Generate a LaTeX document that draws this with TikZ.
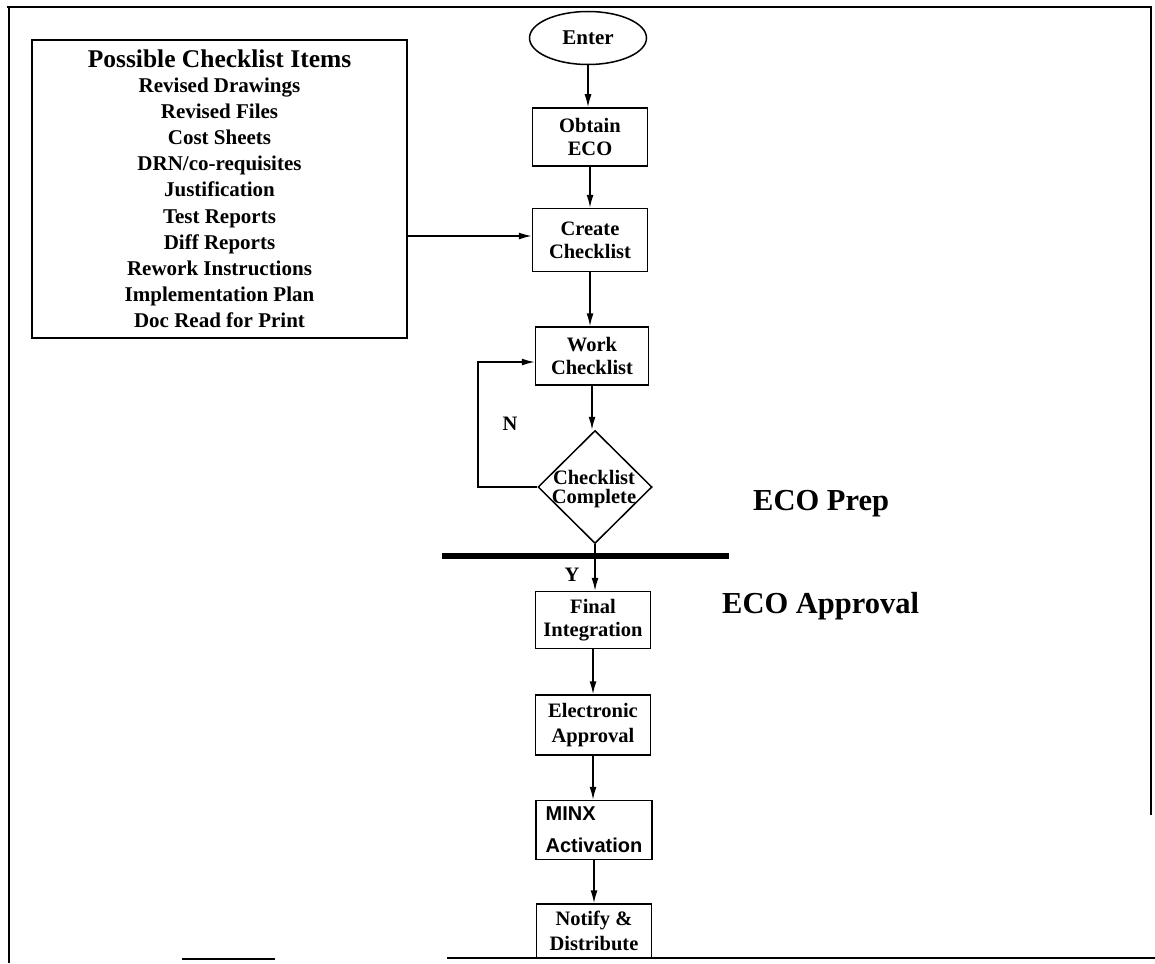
\documentclass[tikz,border=0pt]{standalone}
\usepackage{fontspec}
\setmainfont{Liberation Serif}
\newfontfamily\helv{Liberation Sans}
\usetikzlibrary{shapes.geometric,arrows.meta}
\begin{document}
\begin{tikzpicture}[x=1pt,y=-1pt,
  box/.style={draw,line width=1.5pt,minimum width=115pt,minimum height=58pt,inner sep=0pt,align=center,font=\fontsize{20.5}{23}\selectfont\bfseries},
  arr/.style={line width=1.5pt,-{Latex[length=13pt,width=7pt]}},
  lbl/.style={font=\fontsize{20.5}{23}\selectfont\bfseries,inner sep=0pt},
  phase/.style={font=\fontsize{30.5}{34}\selectfont\bfseries,inner sep=0pt,anchor=base west},
  frame/.style={line width=2.4pt}
]
\useasboundingbox (0,0) rectangle (1155,963);
% frame
\draw[frame] (1151,815) -- (1151,7) -- (7,7);
\draw[frame] (9,7) -- (9,963);
\draw[line width=1.5pt] (182,959) -- (275,959);
\draw[frame] (447,958) -- (1155,958);
% checklist items
\node[draw,line width=1.5pt,minimum width=375pt,minimum height=298pt,inner sep=0pt,align=center,font=\fontsize{21}{26.2}\selectfont\bfseries] (items) at (219.5,189)
 {{\fontsize{25.5}{25}\selectfont Possible Checklist Items}\\[-1.5pt]
  Revised Drawings\\ Revised Files\\ Cost Sheets\\ DRN/co-requisites\\ Justification\\ Test Reports\\ Diff Reports\\ Rework Instructions\\ Implementation Plan\\ Doc Read for Print};
% flow
\node[ellipse,draw,line width=1.5pt,minimum width=117pt,minimum height=53pt,inner sep=0pt,font=\fontsize{21}{23}\selectfont\bfseries] (enter) at (588,38) {Enter};
\node[box] (obtain) at (590,137) {Obtain\\ECO};
\node[box,minimum height=63pt] (create) at (590,240) {Create\\Checklist};
\node[box,minimum width=113pt] (work) at (592,356) {Work\\Checklist};
\node[diamond,draw,line width=1.5pt,minimum width=114pt,minimum height=113pt,inner sep=0pt] (dec) at (595,487) {};
\node[lbl,align=center,font=\fontsize{20.5}{19.5}\selectfont\bfseries] (dectext) at (594,489) {Checklist\\Complete};
\node[box,minimum height=57pt] (final) at (593,620) {Final\\Integration};
\node[box,minimum height=60pt,font=\fontsize{20.5}{25}\selectfont\bfseries] (elec) at (593,725) {Electronic\\Approval};
\node[box,minimum width=116pt,minimum height=59pt,align=left,font=\helv\fontsize{20}{32}\selectfont\bfseries] (minx) at (594,830) {MINX\\Activation};
\node[box,minimum height=54pt,font=\fontsize{20.5}{25}\selectfont\bfseries] (notify) at (594,931) {Notify \&\\Distribute};
% connectors
\draw[arr] (enter.south) -- (enter.south |- obtain.north);
\draw[arr] (obtain.south) -- (obtain.south |- create.north);
\draw[arr] (create.south) -- (create.south |- work.north);
\draw[arr] (work.south) -- (work.south |- dec.north);
\coordinate (loopc) at (478,362);
\draw[arr] (dec.west) -| (loopc) -- (work.west |- loopc);
\draw[arr] (dec.south) -- (dec.south |- final.north);
\draw[arr] (final.south) -- (final.south |- elec.north);
\draw[arr] (elec.south) -- (elec.south |- minx.north);
\draw[arr] (minx.south) -- (minx.south |- notify.north);
\coordinate (itemsout) at (items.east |- 0,236);
\draw[arr] (itemsout) -- (create.west |- itemsout);
% separator
\draw[line width=6pt] (442,556) -- (729,556);
% labels
\node[lbl] (nlab) at (510,424) {N};
\node[lbl] (ylab) at (572,575) {Y};
\node[phase] (prep) at (753,510) {ECO Prep};
\node[phase] (appr) at (722,613) {ECO Approval};
\end{tikzpicture}
\end{document}
